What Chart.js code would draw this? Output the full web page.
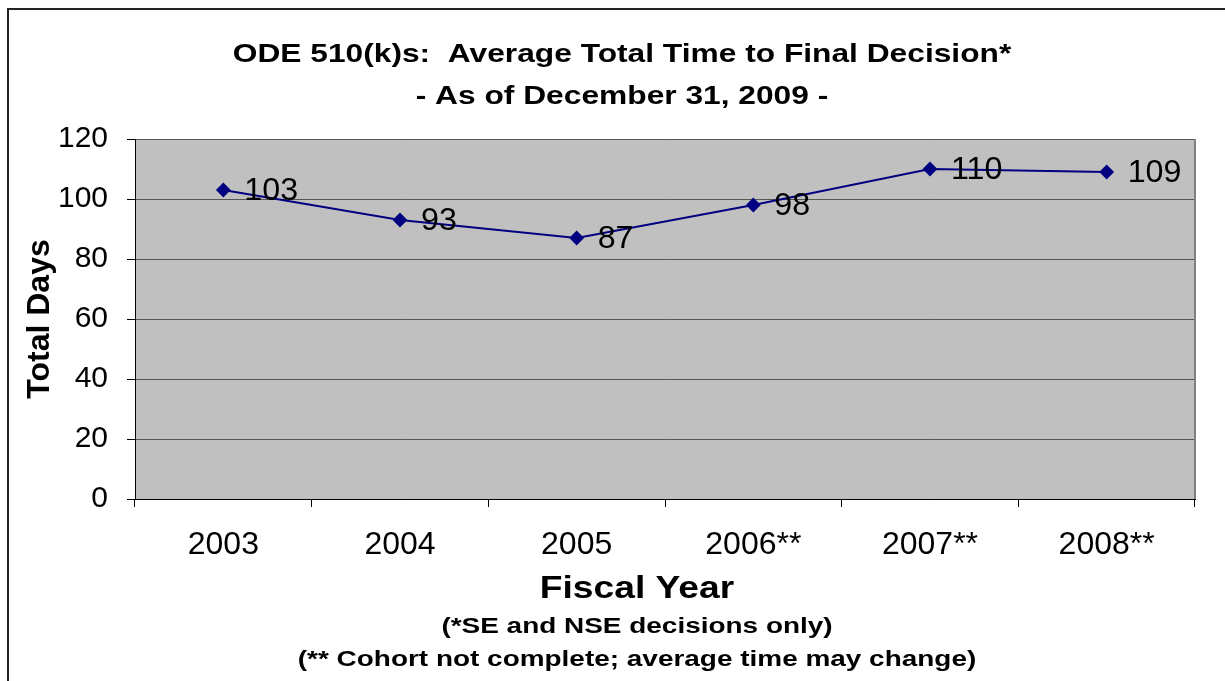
<!DOCTYPE html>
<html>
<head>
<meta charset="utf-8">
<script src="https://cdn.jsdelivr.net/npm/chart.js@4.4.1/dist/chart.umd.min.js"></script>
<style>
  html, body { margin: 0; padding: 0; background: #fff; overflow: hidden; }
  #wrap { position: relative; width: 1225px; height: 681px; }
  #frame { position: absolute; left: 7px; top: 8px; width: 1400px; height: 900px; border: 2px solid #222; }
  canvas { position: absolute; left: 0; top: 0; }
</style>
</head>
<body>
<div id="wrap">
  <div id="frame"></div>
  <canvas id="my-chart" width="1225" height="681"></canvas>
</div>
<script>
const years = ["2003", "2004", "2005", "2006**", "2007**", "2008**"];
const totalDays = [103, 93, 87, 98, 110, 109];
const yTicks = [0, 20, 40, 60, 80, 100, 120];

const titleLines = ["ODE 510(k)s:  Average Total Time to Final Decision*", "- As of December 31, 2009 -"];
const xTitle = "Fiscal Year";
const footnotes = ["(*SE and NSE decisions only)", "(** Cohort not complete; average time may change)"];

const FONT = "'Liberation Sans', Arial, sans-serif";

// the original text is a little wider than the font, so stretch it sideways
function wideText(ctx, text, x, y, sx) {
  ctx.save();
  ctx.translate(x, y);
  ctx.scale(sx, 1);
  ctx.fillText(text, 0, 0);
  ctx.restore();
}

// grey plot background, titles, footnotes and point labels
const decorPlugin = {
  id: "decor",
  beforeDraw(chart) {
    const { ctx, chartArea: a } = chart;
    ctx.save();
    ctx.fillStyle = "#c0c0c0";
    ctx.fillRect(a.left, a.top, a.right - a.left, a.bottom - a.top);
    ctx.restore();
  },
  afterDatasetsDraw(chart) {
    const { ctx, chartArea: a } = chart;
    ctx.save();
    // right border of plot
    ctx.strokeStyle = "#808080";
    ctx.lineWidth = 2;
    ctx.beginPath();
    ctx.moveTo(a.right, a.top);
    ctx.lineTo(a.right, a.bottom);
    ctx.stroke();

    // value labels next to each point
    const meta = chart.getDatasetMeta(0);
    ctx.fillStyle = "#000";
    ctx.font = "31px " + FONT;
    ctx.textAlign = "left";
    ctx.textBaseline = "middle";
    meta.data.forEach((pt, i) => {
      wideText(ctx, String(totalDays[i]), pt.x + 21, pt.y + 1, 1.04);
    });

    // chart title
    ctx.textAlign = "center";
    ctx.font = "bold 26px " + FONT;
    wideText(ctx, titleLines[0], 622, 55, 1.22);
    wideText(ctx, titleLines[1], 622, 97, 1.22);

    // x axis title and footnotes
    ctx.font = "bold 31px " + FONT;
    wideText(ctx, xTitle, 637, 589, 1.2);
    ctx.font = "bold 22px " + FONT;
    wideText(ctx, footnotes[0], 637, 627, 1.27);
    wideText(ctx, footnotes[1], 637, 660, 1.27);
    ctx.restore();
  }
};

const ctx = document.getElementById("my-chart").getContext("2d");

const myChart = new Chart(ctx, {
  type: "line",
  data: {
    labels: years,
    datasets: [
      {
        label: "Total Days",
        data: totalDays,
        borderColor: "#000080",
        backgroundColor: "#000080",
        borderWidth: 2,
        pointStyle: "rectRot",
        pointRadius: 6,
        pointHoverRadius: 6,
        tension: 0,
        fill: false
      }
    ]
  },
  options: {
    responsive: false,
    animation: false,
    devicePixelRatio: 1,
    layout: { padding: { top: 139, left: 9, right: 30, bottom: 122 } },
    plugins: {
      legend: { display: false },
      tooltip: { enabled: false }
    },
    scales: {
      x: {
        type: "category",
        offset: true,
        afterFit: scale => { scale.height = 60; },
        grid: {
          offset: true,
          drawOnChartArea: false,
          drawTicks: true,
          tickLength: 8,
          tickColor: "#000",
          tickWidth: 1
        },
        border: { display: true, color: "#000", width: 1 },
        ticks: {
          color: "#000",
          padding: 19,
          font: { family: FONT, size: 32 }
        }
      },
      y: {
        min: 0,
        max: 120,
        afterFit: scale => { scale.width = 126; },
        afterBuildTicks: scale => {
          scale.ticks = yTicks.map(v => ({ value: v }));
        },
        grid: {
          color: "#555",
          lineWidth: 1,
          drawTicks: true,
          tickLength: 8,
          tickColor: "#000"
        },
        border: { display: true, color: "#000", width: 1 },
        ticks: {
          color: "#000",
          padding: 19,
          font: { family: FONT, size: 30 }
        },
        title: {
          display: true,
          text: "Total Days",
          color: "#000",
          padding: { top: 12, bottom: 0 },
          font: { family: FONT, size: 32, weight: "bold" }
        }
      }
    }
  },
  plugins: [decorPlugin]
});
</script>
</body>
</html>
